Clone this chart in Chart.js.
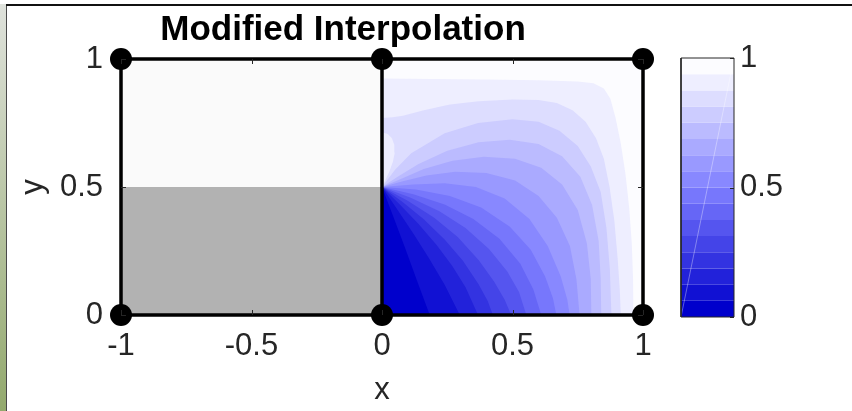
<!DOCTYPE html>
<html>
<head>
<meta charset="utf-8">
<title>Modified Interpolation</title>
<script src="https://cdn.jsdelivr.net/npm/chart.js@4.4.1/dist/chart.umd.min.js"></script>
<style>
  html, body { margin: 0; padding: 0; background: #fff; }
  #stage { position: relative; width: 852px; height: 411px; overflow: hidden; background: #fff; }
  #frameLeft { position: absolute; left: 0; top: 4px; width: 6px; height: 407px; background: linear-gradient(#dfe2dc, #93a96d); }
  #frameLeftLine { position: absolute; left: 6px; top: 4px; width: 1px; height: 407px; background: #4a4a4a; }
  #frameTop { position: absolute; left: 6px; top: 4px; width: 846px; height: 2px; background: #111; }
  #plot { position: absolute; left: 0; top: 0; }
  #cbar { position: absolute; left: 660px; top: 0; }
</style>
</head>
<body>
<div id="stage">
  <div id="frameLeft"></div>
  <div id="frameLeftLine"></div>
  <div id="frameTop"></div>
  <canvas id="plot" width="852" height="411"></canvas>
  <canvas id="cbar" width="192" height="411"></canvas>
</div>
<script>
// Axis ticks
const xTicks = [-1, -0.5, 0, 0.5, 1];
const yTicks = [0, 0.5, 1];
const colorbarTicks = [0, 0.5, 1];

// Mesh: two square elements, nodes at the corners
const nodeX = [-1, 0, 1, -1, 0, 1];
const nodeY = [0, 0, 0, 1, 1, 1];
const outerEdge = [[-1, 0], [1, 0], [1, 1], [-1, 1], [-1, 0]];
const middleEdge = [[0, 0], [0, 1]];

// Left element: two flat patches
const leftLower = [[-1, 0], [0, 0], [0, 0.5], [-1, 0.5]];
const leftUpper = [[-1, 0.5], [0, 0.5], [0, 1], [-1, 1]];

// Right element: outline and filled contour boundaries
const rightElement = [[0, 0], [1, 0], [1, 1], [0, 1]];
const rightCorners = [[1, 0], [1, 1], [0, 1]];

const contour01 = [[0, 0.5], [0.045, 0.38], [0.09, 0.258], [0.135, 0.132], [0.183, 0]];
const contour02 = [[0, 0.5], [0.06, 0.41], [0.12, 0.318], [0.18, 0.222], [0.24, 0.118], [0.298, 0]];
const contour03 = [[0, 0.5], [0.07, 0.43], [0.14, 0.355], [0.21, 0.272], [0.27, 0.19], [0.32, 0.108], [0.368, 0]];
const contour04 = [[0, 0.5], [0.08, 0.44], [0.16, 0.374], [0.24, 0.295], [0.31, 0.212], [0.37, 0.12], [0.405, 0.055], [0.425, 0]];
const contour05 = [[0, 0.5], [0.1, 0.445], [0.2, 0.38], [0.29, 0.305], [0.37, 0.215], [0.43, 0.13], [0.47, 0.06], [0.495, 0]];
const contour06 = [[0, 0.5], [0.11, 0.458], [0.22, 0.405], [0.32, 0.34], [0.41, 0.258], [0.48, 0.17], [0.525, 0.09], [0.553, 0]];
const contour07 = [[0, 0.5], [0.12, 0.472], [0.24, 0.432], [0.35, 0.375], [0.45, 0.298], [0.53, 0.2], [0.58, 0.1], [0.61, 0]];
const contour08 = [[0, 0.5], [0.13, 0.49], [0.26, 0.465], [0.38, 0.42], [0.49, 0.345], [0.57, 0.255], [0.625, 0.15], [0.655, 0.065], [0.668, 0]];
const contour09 = [[0, 0.5], [0.12, 0.51], [0.24, 0.515], [0.36, 0.5], [0.47, 0.455], [0.565, 0.375], [0.635, 0.27], [0.685, 0.15], [0.71, 0.06], [0.719, 0]];
const contour10 = [[0, 0.5], [0.08, 0.522], [0.17, 0.545], [0.28, 0.56], [0.4, 0.555], [0.51, 0.525], [0.6, 0.465], [0.67, 0.38], [0.72, 0.27], [0.745, 0.14], [0.757, 0]];
const contour11 = [[0, 0.5], [0.07, 0.53], [0.16, 0.57], [0.27, 0.603], [0.39, 0.618], [0.51, 0.61], [0.61, 0.575], [0.69, 0.51], [0.75, 0.41], [0.785, 0.28], [0.8, 0.14], [0.802, 0]];
const contour12 = [[0, 0.5], [0.06, 0.54], [0.14, 0.59], [0.25, 0.642], [0.37, 0.675], [0.49, 0.685], [0.6, 0.668], [0.69, 0.62], [0.76, 0.54], [0.805, 0.43], [0.83, 0.29], [0.838, 0.14], [0.84, 0]];
const contour13 = [[0, 0.5], [0.05, 0.567], [0.112, 0.632], [0.24, 0.71], [0.368, 0.75], [0.5, 0.765], [0.6, 0.755], [0.68, 0.72], [0.75, 0.66], [0.8, 0.58], [0.838, 0.48], [0.86, 0.34], [0.873, 0.18], [0.879, 0]];
const contour14 = [[0, 0.77], [0.04, 0.772], [0.08, 0.778], [0.16, 0.8], [0.26, 0.822], [0.37, 0.835], [0.5, 0.842], [0.6, 0.84], [0.67, 0.828], [0.73, 0.8], [0.78, 0.755], [0.82, 0.69], [0.85, 0.61], [0.872, 0.5], [0.89, 0.37], [0.903, 0.22], [0.911, 0.1], [0.915, 0]];
const contour15 = [[0, 0.924], [0.2, 0.922], [0.4, 0.92], [0.6, 0.917], [0.75, 0.912], [0.81, 0.905], [0.85, 0.885], [0.875, 0.845], [0.895, 0.77], [0.915, 0.67], [0.933, 0.55], [0.947, 0.42], [0.957, 0.28], [0.962, 0.14], [0.963, 0]];
// small island of level 14 on the left edge, just above the singular point
const lobe14 = [[0, 0.5], [0.012, 0.525], [0.028, 0.56], [0.042, 0.6], [0.049, 0.635], [0.047, 0.665], [0.038, 0.69], [0.022, 0.707], [0, 0.714]];

const contours = [contour01, contour02, contour03, contour04, contour05, contour06, contour07, contour08,
                  contour09, contour10, contour11, contour12, contour13, contour14, contour15];

// 16 colour levels of the colorbar
const bandLevels = [0, 0.0625, 0.125, 0.1875, 0.25, 0.3125, 0.375, 0.4375, 0.5,
                    0.5625, 0.625, 0.6875, 0.75, 0.8125, 0.875, 0.9375, 1];
const bandColors = ['#0000cc', '#1111d3', '#2222da', '#3333e1', '#4444e8', '#5555ef', '#6666f6', '#7777fc',
                    '#8888ff', '#9999ff', '#aaaaff', '#bbbbff', '#ccccff', '#ddddff', '#eeeeff', '#fcfcff'];

const FONT = "'Liberation Sans', Arial, Helvetica, sans-serif";
const TEXT_COLOR = '#262626';
const tickFont = { family: FONT, size: 31, lineHeight: 1 };

const toXY = pts => pts.map(([x, y]) => ({ x, y }));

function patch(points, color) {
    return {
        data: toXY(points),
        borderWidth: 0,
        pointRadius: 0,
        fill: 'shape',
        backgroundColor: color,
        tension: 0
    };
}

/**
 * Small inward tick marks, like the MATLAB axes box
 */
const insideTicks = {
    id: 'insideTicks',
    afterDatasetsDraw(chart, args, opts) {
        const { ctx, chartArea: a, scales } = chart;
        const len = opts.len || 5;
        ctx.save();
        ctx.strokeStyle = opts.color || TEXT_COLOR;
        ctx.lineWidth = 1;
        ctx.beginPath();
        (opts.x || []).forEach(v => {
            const px = Math.round(scales.x.getPixelForValue(v)) + 0.5;
            ctx.moveTo(px, a.top); ctx.lineTo(px, a.top + len);
            ctx.moveTo(px, a.bottom); ctx.lineTo(px, a.bottom - len);
        });
        (opts.y || []).forEach(v => {
            const py = Math.round(scales.y.getPixelForValue(v)) + 0.5;
            if (opts.left) { ctx.moveTo(a.left, py); ctx.lineTo(a.left + len, py); }
            ctx.moveTo(a.right, py); ctx.lineTo(a.right - len, py);
        });
        ctx.stroke();
        ctx.restore();
    }
};

// Main plot datasets, in painting order (first = bottom)
const plotDatasets = [];
plotDatasets.push(patch(rightElement, bandColors[0]));
contours.forEach((c, i) => {
    if (i === 13) plotDatasets.push(patch(lobe14, bandColors[14]));
    plotDatasets.push(patch(c.concat(rightCorners), bandColors[i + 1]));
});
plotDatasets.push(patch(leftLower, '#b2b2b2'));
plotDatasets.push(patch(leftUpper, '#fafafa'));
plotDatasets.push({
    data: toXY(outerEdge), borderColor: '#000', borderWidth: 3.5, pointRadius: 0, fill: false, clip: false
});
plotDatasets.push({
    data: toXY(middleEdge), borderColor: '#000', borderWidth: 3.5, pointRadius: 0, fill: false, clip: false
});
plotDatasets.push({
    data: nodeX.map((x, i) => ({ x, y: nodeY[i] })),
    showLine: false, pointRadius: 11, pointBackgroundColor: '#000', pointBorderWidth: 0, clip: false
});
plotDatasets.forEach((d, i) => { d.order = plotDatasets.length - i; d.xAxisID = 'x'; d.yAxisID = 'y'; });

new Chart(document.getElementById('plot'), {
    type: 'line',
    data: { datasets: plotDatasets },
    options: {
        responsive: false,
        animation: false,
        events: [],
        layout: { autoPadding: false, padding: { left: 14, top: 0, right: 180, bottom: 0 } },
        plugins: {
            legend: { display: false },
            tooltip: { enabled: false },
            title: {
                display: true,
                text: 'Modified Interpolation',
                color: '#000',
                font: { family: FONT, size: 35, weight: 'bold', lineHeight: 1 },
                padding: { top: 13, bottom: 11 }
            },
            insideTicks: { x: xTicks, y: yTicks, left: true, len: 5 }
        },
        scales: {
            x: {
                type: 'linear', min: -1, max: 1,
                grid: { display: false, drawTicks: false },
                border: { display: false },
                afterBuildTicks: s => { s.ticks = xTicks.map(v => ({ value: v })); },
                afterFit: s => { s.height = 96; },
                ticks: { color: TEXT_COLOR, font: tickFont, padding: 16, maxRotation: 0, autoSkip: false, callback: v => String(v) },
                title: { display: true, text: 'x', color: TEXT_COLOR, font: tickFont, padding: { top: 0, bottom: 5 } }
            },
            y: {
                type: 'linear', min: 0, max: 1,
                grid: { display: false, drawTicks: false },
                border: { display: false },
                afterBuildTicks: s => { s.ticks = yTicks.map(v => ({ value: v })); },
                afterFit: s => { s.width = 107; },
                ticks: { color: TEXT_COLOR, font: tickFont, padding: 18, autoSkip: false, callback: v => String(v) },
                title: { display: true, text: 'y', color: TEXT_COLOR, font: tickFont, padding: { top: 4, bottom: 0 } }
            },
            yR: {
                position: 'right',
                grid: { display: false, drawTicks: false },
                border: { display: false },
                ticks: { display: false },
                afterFit: s => { s.width = 29; }
            }
        }
    },
    plugins: [insideTicks]
});

// Colorbar: one rectangle per level
const cbarDatasets = bandColors.map((c, i) => patch(
    [[0, bandLevels[i]], [1, bandLevels[i]], [1, bandLevels[i + 1]], [0, bandLevels[i + 1]]], c));
cbarDatasets.push({
    data: toXY([[0, 0], [1, 1]]), borderColor: 'rgba(255,255,255,0.35)', borderWidth: 1, pointRadius: 0, fill: false
});
cbarDatasets.push({
    data: toXY([[0, 0], [1, 0], [1, 1], [0, 1], [0, 0]]), borderColor: TEXT_COLOR, borderWidth: 1, pointRadius: 0, fill: false, clip: false
});
cbarDatasets.forEach((d, i) => { d.order = cbarDatasets.length - i; });

new Chart(document.getElementById('cbar'), {
    type: 'line',
    data: { datasets: cbarDatasets },
    options: {
        responsive: false,
        animation: false,
        events: [],
        layout: { autoPadding: false, padding: { left: 21, top: 58, right: 38, bottom: 94 } },
        plugins: {
            legend: { display: false },
            tooltip: { enabled: false },
            insideTicks: { y: colorbarTicks, left: false, len: 4 }
        },
        scales: {
            x: { type: 'linear', min: 0, max: 1, display: false },
            y: {
                type: 'linear', position: 'right', min: 0, max: 1,
                grid: { display: false, drawTicks: false },
                border: { display: false },
                afterBuildTicks: s => { s.ticks = colorbarTicks.map(v => ({ value: v })); },
                afterFit: s => { s.width = 80; },
                ticks: { color: TEXT_COLOR, font: tickFont, padding: 6, autoSkip: false, callback: v => String(v) }
            }
        }
    },
    plugins: [insideTicks]
});
</script>
</body>
</html>
